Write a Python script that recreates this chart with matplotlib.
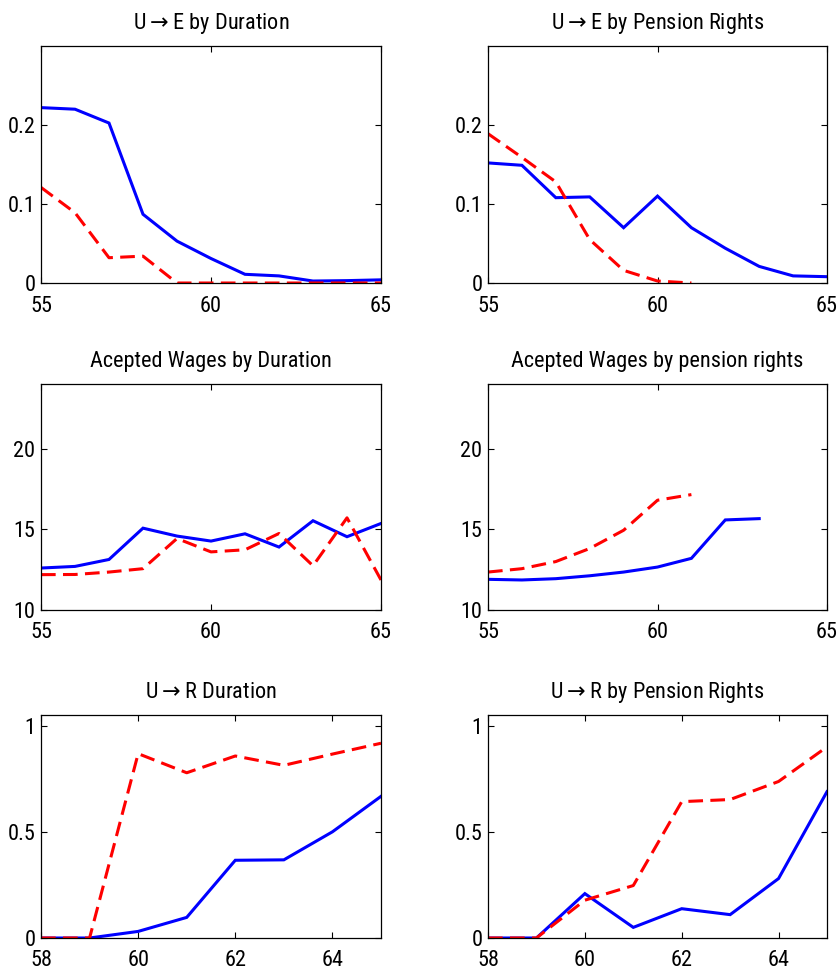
import numpy as np
import matplotlib
matplotlib.use("Agg")
import matplotlib.pyplot as plt
from matplotlib import font_manager

# ---------------- data ----------------
ages_a = [55, 56, 57, 58, 59, 60, 61, 62, 63, 64, 65]
ages_r = [58, 59, 60, 61, 62, 63, 64, 65]

ue_dur_blue = [0.222, 0.220, 0.2025, 0.087, 0.053, 0.031, 0.011, 0.009, 0.0025, 0.003, 0.004]
ue_dur_red = [0.121, 0.089, 0.032, 0.034, 0.0, 0.0, 0.0, 0.0, 0.0, 0.0, 0.0]

ue_pen_blue = [0.152, 0.149, 0.108, 0.109, 0.070, 0.110, 0.070, 0.044, 0.021, 0.009, 0.008]
ue_pen_red = [0.189, 0.159, 0.128, 0.055, 0.016, 0.0025, 0.0, np.nan, np.nan, np.nan, np.nan]

w_dur_blue = [12.6, 12.7, 13.13, 15.07, 14.58, 14.27, 14.72, 13.9, 15.53, 14.54, 15.36]
w_dur_red = [12.19, 12.2, 12.35, 12.56, 14.43, 13.6, 13.73, 14.74, 12.74, 15.71, 11.86]

w_pen_blue = [11.9, 11.86, 11.94, 12.12, 12.35, 12.66, 13.2, 15.58, 15.66, np.nan, np.nan]
w_pen_red = [12.35, 12.56, 13.0, 13.81, 14.94, 16.8, 17.15, np.nan, np.nan, np.nan, np.nan]

ur_dur_blue = [0.0, 0.0, 0.031, 0.097, 0.366, 0.368, 0.5, 0.667]
ur_dur_red = [0.0, 0.0, 0.868, 0.778, 0.857, 0.813, 0.866, 0.917]

ur_pen_blue = [0.0, 0.0, 0.209, 0.05, 0.138, 0.11, 0.28, 0.689]
ur_pen_red = [0.0, 0.0, 0.178, 0.247, 0.642, 0.652, 0.737, 0.90]

titles = ["U$\\rightarrow$E by Duration", "U$\\rightarrow$E by Pension Rights",
          "Acepted Wages by Duration", "Acepted Wages by pension rights",
          "U$\\rightarrow$R Duration", "U$\\rightarrow$R by Pension Rights"]

# ---------------- fonts ----------------
ttf = font_manager.fontManager.ttflist
avail = {f.name for f in ttf}
stretch = 'normal'
chosen = None
for cand in ["Liberation Sans Narrow", "Roboto Condensed", "Open Sans Condensed",
             "Noto Sans Condensed", "Arial Narrow", "Nimbus Sans Narrow", "DejaVu Sans Condensed"]:
    if cand in avail:
        chosen = cand
        break
if chosen is None:
    for fam in ["Noto Sans", "Open Sans", "Roboto"]:
        if any(f.name == fam and str(f.stretch) in ('condensed', 'semi-condensed', 'extra-condensed',
                                                     '500', '600', '400', '300')
               for f in ttf):
            chosen = fam
            stretch = 'condensed'
            break
if chosen is None:
    chosen = "Roboto" if "Roboto" in avail else "Liberation Sans"
plt.rcParams['font.family'] = [chosen, "DejaVu Sans"]
plt.rcParams['font.stretch'] = stretch
plt.rcParams['mathtext.fontset'] = 'dejavusans'

fig = plt.figure(figsize=(8.4, 9.75), dpi=100)

W, H = 840.0, 975.0
col_x = [(41, 340), (488, 339)]
row_y = [(46, 283), (384, 610), (715, 938)]

panels = [
    (ages_a, ue_dur_blue, ue_dur_red, (55, 65), (0, 0.3), [55, 60, 65], [0, 0.1, 0.2], ["0", "0.1", "0.2"]),
    (ages_a, ue_pen_blue, ue_pen_red, (55, 65), (0, 0.3), [55, 60, 65], [0, 0.1, 0.2], ["0", "0.1", "0.2"]),
    (ages_a, w_dur_blue, w_dur_red, (55, 65), (10, 24), [55, 60, 65], [10, 15, 20], ["10", "15", "20"]),
    (ages_a, w_pen_blue, w_pen_red, (55, 65), (10, 24), [55, 60, 65], [10, 15, 20], ["10", "15", "20"]),
    (ages_r, ur_dur_blue, ur_dur_red, (58, 65), (0, 1.05), [58, 60, 62, 64], [0, 0.5, 1], ["0", "0.5", "1"]),
    (ages_r, ur_pen_blue, ur_pen_red, (58, 65), (0, 1.05), [58, 60, 62, 64], [0, 0.5, 1], ["0", "0.5", "1"]),
]

fs = 16 if stretch == 'condensed' or chosen.endswith(("Narrow", "Condensed")) else 15
for i, (x, yb, yr, xl, yl, xt, yt, ytl) in enumerate(panels):
    r, c = divmod(i, 2)
    x0, w = col_x[c]
    top, bot = row_y[r]
    ax = fig.add_axes([x0 / W, 1 - bot / H, w / W, (bot - top) / H])
    ax.plot(x, yb, color=(0, 0, 1), lw=2.2, solid_joinstyle='miter')
    ax.plot(x, yr, color=(1, 0, 0), lw=2.2, linestyle=(0, (4.8, 2.4)))
    ax.set_xlim(*xl)
    ax.set_ylim(*yl)
    ax.set_xticks(xt)
    ax.set_xticklabels([str(v) for v in xt])
    ax.set_yticks(yt)
    ax.set_yticklabels(ytl)
    ax.tick_params(direction='in', top=True, right=True, length=4, width=0.8,
                   labelsize=fs, colors='black')
    ax.tick_params(axis='x', pad=9)
    ax.tick_params(axis='y', pad=4)
    for s in ax.spines.values():
        s.set_linewidth(0.9)
    ax.set_title(titles[i], fontsize=fs, pad=12)

fig.savefig("out.png", dpi=100)
